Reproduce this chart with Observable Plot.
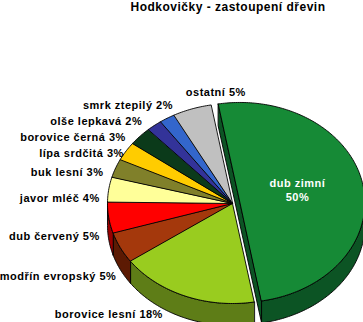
<!DOCTYPE html>
<html>
<head>
<meta charset="utf-8">
<script src="https://cdn.jsdelivr.net/npm/d3@7"></script>
<script src="https://cdn.jsdelivr.net/npm/@observablehq/plot@0.6"></script>
<style>
  html, body { margin: 0; padding: 0; background: #fff; }
  #title {
    box-sizing: border-box; width: 363px; height: 18px; line-height: 18px;
    padding-left: 93px; text-align: center;
    font: bold 12px "Liberation Sans", Arial, sans-serif; letter-spacing: 0.5px; color: #000;
  }
  #chart svg text { letter-spacing: 0.5px; }
</style>
</head>
<body>
<div id="title">Hodkovičky - zastoupení dřevin</div>
<div id="chart"></div>
<script>
// Species shares (%), in clockwise order starting from the exploded slice
const species = ["dub zimní", "borovice lesní", "modřín evropský", "dub červený", "javor mléč",
  "buk lesní", "lípa srdčitá", "borovice černá", "olše lepkavá", "smrk ztepilý", "ostatní"];
const shares = [50, 18, 5, 5, 4, 3, 3, 3, 2, 2, 5];
const topColors = ["#168a36", "#99cc1f", "#a4380c", "#ff0000", "#ffff99",
  "#80802a", "#ffcc00", "#0b3a1a", "#333399", "#3366cc", "#c0c0c0"];
const sideColors = ["#0c5424", "#5e7d17", "#5c1a03", "#9a0000", "#9b9b5c",
  "#4d4d19", "#9a7b00", "#06220f", "#1f1f5c", "#1f3d7a", "#737373"];

// Layout of the tilted pie (page pixels)
const W = 363, H = 322, titleH = 18;
const cx = 232, cy = 203, rx = 125, ry = 100;
const depth = 0.22;          // rim thickness, in y units
const explode = 0.06;        // offset of the first slice
const deg = Math.PI / 180;

// Label nudges (px) from each slice's mid-angle rim point
const labelNudge = [[-4, -4], [-76, 18], [-4, 28], [-9, 18], [-9, 8],
  [-12, 3], [-2, 1], [-14, 0], [-12, -5], [6, -14], [24, -17]];

const arcs = d3.pie().sort(null).value(d => d)
  .startAngle(-10 * deg).endAngle(350 * deg)(shares);

const slices = arcs.map((a, i) => {
  const mid = (a.startAngle + a.endAngle) / 2;
  const k = i === 0 ? explode : 0;
  return {i, name: species[i], share: shares[i], a0: a.startAngle, a1: a.endAngle, mid,
    ox: k * Math.sin(mid), oy: -k * Math.cos(mid)};
});

const P = (s, t, dz = 0) => ({x: s.ox + Math.sin(t), y: s.oy - Math.cos(t) + dz});
function arcPts(s, t0, t1, dz = 0) {
  const n = Math.max(2, Math.ceil(Math.abs(t1 - t0) / deg));
  return d3.range(n + 1).map(j => P(s, t0 + (t1 - t0) * j / n, dz));
}

const faces = [];
function addFace(id, pts, color) { pts.forEach(p => faces.push({...p, id, color})); }

function sideFace(s) {
  const lo = Math.max(s.a0, 90 * deg), hi = Math.min(s.a1, 270 * deg);
  if (lo < hi) addFace("side" + s.i, [...arcPts(s, lo, hi), ...arcPts(s, hi, lo, depth)], sideColors[s.i]);
}
function topFace(s) {
  addFace("top" + s.i, [{x: s.ox, y: s.oy}, ...arcPts(s, s.a0, s.a1)], topColors[s.i]);
}

// Rest of the pie: rims first, then top faces
slices.slice(1).forEach(sideFace);
slices.slice(1).forEach(topFace);
// Exploded slice: cut face along its straight edge, rim, top
{
  const s = slices[0];
  const c = {x: s.ox, y: s.oy};
  addFace("cut0", [P(s, s.a0), c, P(s, s.a1), P(s, s.a1, depth), {x: c.x, y: c.y + depth}, P(s, s.a0, depth)], sideColors[0]);
  sideFace(s);
  topFace(s);
}

const labels = slices.map(s => {
  const r = s.i === 0 ? 0.5 : 1;
  return {
    x: s.ox + r * Math.sin(s.mid), y: s.oy - r * Math.cos(s.mid),
    text: s.i === 0 ? `${s.name}\n${s.share}%` : `${s.name} ${s.share}%`,
    anchor: (s.i === 0 || s.i === 1 || s.i === 10) ? "middle" : "end",
    fill: s.i === 0 ? "#fff" : "#000",
    dx: labelNudge[s.i][0], dy: labelNudge[s.i][1]
  };
});

const chart = Plot.plot({
  width: W, height: H - titleH, margin: 0,
  x: {domain: [-1, 1], range: [cx - rx, cx + rx], axis: null},
  y: {domain: [-1, 1], range: [cy - ry - titleH, cy + ry - titleH], axis: null},
  color: {type: "identity"},
  style: {background: "#fff", overflow: "visible"},
  marks: [
    Plot.line(faces, {x: "x", y: "y", z: "id", fill: "color", stroke: "#000",
      strokeWidth: 0.9, curve: "linear-closed"}),
    ...labels.map(l => Plot.text([l], {x: "x", y: "y", text: "text", textAnchor: l.anchor,
      fill: l.fill, dx: l.dx, dy: l.dy, lineHeight: 1.25,
      fontFamily: "Liberation Sans, Arial, sans-serif", fontWeight: "bold", fontSize: 11}))
  ]
});
document.getElementById("chart").append(chart);
</script>
</body>
</html>
